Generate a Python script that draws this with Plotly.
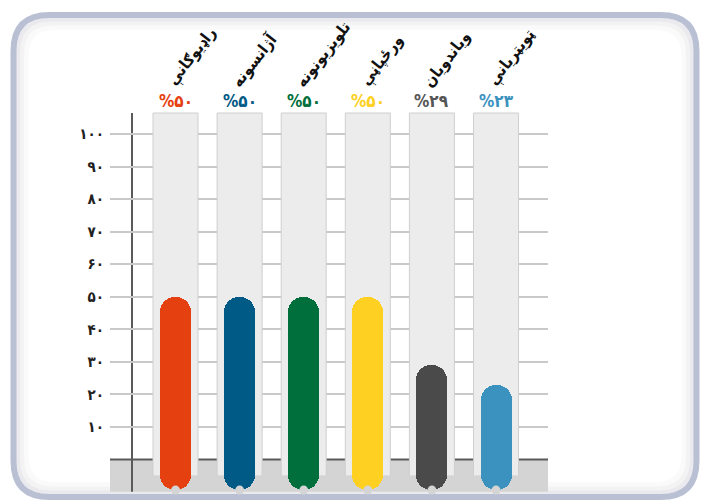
import plotly.graph_objects as go

# ---------------- data ----------------
categories = ["راډیوګانې", "آژانسونه", "تلویزیونونه", "ورځپاڼې", "ویاندویان", "ټویټریانې"]
values = [50, 50, 50, 50, 29, 23]
pct_labels = ["%۵۰", "%۵۰", "%۵۰", "%۵۰", "%۲۹", "%۲۳"]
tick_vals = [10, 20, 30, 40, 50, 60, 70, 80, 90, 100]
tick_text = ["۱۰", "۲۰", "۳۰", "۴۰", "۵۰", "۶۰", "۷۰", "۸۰", "۹۰", "۱۰۰"]

# ---------------- style ----------------
bar_colors = ["#E5400F", "#005A86", "#006F3C", "#FDD022", "#4B4A4B", "#3C92BE"]
pct_colors = ["#E5400F", "#005A86", "#006F3C", "#FDD022", "#555555", "#3C92BE"]
FONT = "DejaVu Sans Condensed, DejaVu Sans"

OFF = 8  # page body margin
W, H = 709 - OFF, 504 - OFF
L = 110 - OFF
PLOT_RIGHT = 548 - OFF
R = W - PLOT_RIGHT
PW = PLOT_RIGHT - L
Y_MIN, Y_MAX = -13.67, (459.5 - OFF) / 3.255
X_MIN, X_MAX = -1.022, 5.811
BASE = -9.4
BAR_W = 0.484
TRACK_HALF = 0.351
TRACK_TOP, TRACK_BOT = 106.45, -5.07
BAND_BOT = -9.9


def px(x):
    return (x - OFF - L) / PW


def py(y):
    return 1 - (y - OFF) / H


def rounded_rect(x0, y0, x1, y1, r):
    pts = [
        f"M {px(x0 + r)} {py(y0)}",
        f"L {px(x1 - r)} {py(y0)}",
        f"Q {px(x1)} {py(y0)} {px(x1)} {py(y0 + r)}",
        f"L {px(x1)} {py(y1 - r)}",
        f"Q {px(x1)} {py(y1)} {px(x1 - r)} {py(y1)}",
        f"L {px(x0 + r)} {py(y1)}",
        f"Q {px(x0)} {py(y1)} {px(x0)} {py(y1 - r)}",
        f"L {px(x0)} {py(y0 + r)}",
        f"Q {px(x0)} {py(y0)} {px(x0 + r)} {py(y0)}",
        "Z",
    ]
    return " ".join(pts)


fig = go.Figure()

fig.add_trace(go.Bar(
    x=categories,
    y=[v - BASE for v in values],
    base=BASE,
    width=BAR_W,
    marker=dict(color=bar_colors, line=dict(width=0), cornerradius="50%"),
    hoverinfo="skip",
    showlegend=False,
))

fig.add_trace(go.Scatter(
    x=categories,
    y=[BASE] * len(categories),
    mode="markers",
    marker=dict(size=9, color="#D6D5D5", line=dict(width=0)),
    hoverinfo="skip",
    showlegend=False,
))

shapes = []
# frame with subtle inner shadow
for off, col, w in [(12, "#FAFAFA", 6), (8, "#F3F3F4", 5), (4.5, "#EAEAEE", 4)]:
    shapes.append(dict(type="path", xref="paper", yref="paper", layer="below",
                       path=rounded_rect(13.5 + off, 15 + off, 696.5 - off, 497 - off, 36 - off * 0.6),
                       line=dict(color=col, width=w), fillcolor="rgba(0,0,0,0)"))
shapes.append(dict(type="path", xref="paper", yref="paper", layer="below",
                   path=rounded_rect(13.5, 15, 696.5, 497, 36),
                   line=dict(color="#BAC0D3", width=6), fillcolor="rgba(0,0,0,0)"))
# gray band below zero
shapes.append(dict(type="rect", xref="paper", yref="y", x0=0, x1=1, y0=BAND_BOT, y1=0,
                   fillcolor="#D5D4D4", line=dict(width=0), layer="between"))
# baseline
shapes.append(dict(type="line", xref="paper", yref="y", x0=0, x1=1, y0=0, y1=0,
                   line=dict(color="#5A5A5A", width=2), layer="between"))
# tracks
for i in range(len(categories)):
    shapes.append(dict(type="rect", xref="x", yref="y",
                       x0=i - TRACK_HALF, x1=i + TRACK_HALF, y0=TRACK_BOT, y1=TRACK_TOP,
                       fillcolor="#ECECEC", line=dict(color="#CFCFCF", width=1), layer="between"))
# vertical axis line
shapes.append(dict(type="line", xref="paper", yref="y", x0=px(132), x1=px(132),
                   y0=BAND_BOT, y1=TRACK_TOP,
                   line=dict(color="#5A5A5A", width=2), layer="between"))

annotations = []
for i, (cat, pl, pc) in enumerate(zip(categories, pct_labels, pct_colors)):
    annotations.append(dict(x=i, y=110.1, xref="x", yref="y", text=pl, showarrow=False,
                            xanchor="center", yanchor="middle",
                            font=dict(family=FONT, size=17, color=pc, weight="bold")))
    annotations.append(dict(x=i - 0.24, y=112.4, xref="x", yref="y", text=cat, showarrow=False,
                            xanchor="left", yanchor="bottom", textangle=-52,
                            font=dict(family=FONT, size=16, color="#111111", weight="bold")))

fig.update_layout(
    width=W, height=H,
    margin=dict(l=L, r=R, t=0, b=0, pad=0),
    paper_bgcolor="white",
    plot_bgcolor="rgba(0,0,0,0)",
    shapes=shapes,
    annotations=annotations,
    bargap=0,
    xaxis=dict(range=[X_MIN, X_MAX], showticklabels=False, showgrid=False,
               zeroline=False, showline=False, ticks="", fixedrange=True),
    yaxis=dict(range=[Y_MIN, Y_MAX], tickvals=tick_vals, ticktext=tick_text,
               showgrid=True, gridcolor="#C9C9C9", gridwidth=1.5, zeroline=False,
               showline=False, ticks="outside", ticklen=2, tickcolor="rgba(0,0,0,0)",
               tickfont=dict(family=FONT, size=15, color="#222222", weight="bold"),
               fixedrange=True),
)

fig.write_html("out.html")
